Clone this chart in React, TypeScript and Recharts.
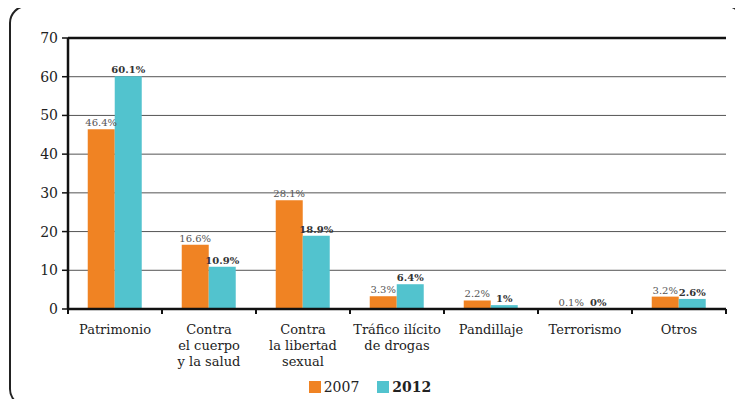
import React from "react";
import {
  Bar,
  BarChart,
  CartesianGrid,
  LabelList,
  Legend,
  ReferenceLine,
  XAxis,
  YAxis,
} from "recharts";

const categories = [
  "Patrimonio",
  "Contra\nel cuerpo\ny la salud",
  "Contra\nla libertad\nsexual",
  "Tráfico ilícito\nde drogas",
  "Pandillaje",
  "Terrorismo",
  "Otros",
];
const values2007 = [46.4, 16.6, 28.1, 3.3, 2.2, 0.1, 3.2];
const values2012 = [60.1, 10.9, 18.9, 6.4, 1, 0, 2.6];
const yTicks = [0, 10, 20, 30, 40, 50, 60, 70];
const seriesNames = ["2007", "2012"];

const ORANGE = "#F08323";
const TEAL = "#52C3CE";
const FONT = "'DejaVu Serif', serif";

const data = categories.map((name, i) => ({
  name,
  y2007: values2007[i],
  y2012: values2012[i],
}));

function CategoryTick(props: any) {
  const { x, y, payload, index } = props;
  const lines = String(payload.value).split("\n");
  const half = payload.offset ?? 47;
  return (
    <g>
      <line x1={x - half} x2={x - half} y1={y - 8} y2={y - 3} stroke="#111" strokeWidth={2} />
      {index === categories.length - 1 && (
        <line x1={x + half} x2={x + half} y1={y - 8} y2={y - 3} stroke="#111" strokeWidth={2} />
      )}
      <text x={x} y={y + 17} textAnchor="middle" fontFamily={FONT} fontSize={13} fill="#222">
        {lines.map((l, i) => (
          <tspan key={i} x={x} dy={i === 0 ? 0 : 16}>
            {l}
          </tspan>
        ))}
      </text>
    </g>
  );
}

// label above a bar, also drawn when the bar has no height
function makeLabel(color: string, weight: number) {
  return (props: any) => {
    const { x, y, width, value } = props;
    if (value == null) return null;
    return (
      <text
        x={x + width / 2}
        y={y - 3}
        textAnchor="middle"
        fontFamily={FONT}
        fontSize={10}
        fontWeight={weight}
        fill={color}
      >
        {`${value}%`}
      </text>
    );
  };
}

function LegendContent() {
  const colors = [ORANGE, TEAL];
  return (
    <div style={{ display: "flex", justifyContent: "center", gap: 18, fontFamily: FONT, fontSize: 14, color: "#222", marginLeft: -14 }}>
      {seriesNames.map((s, i) => (
        <div key={s} style={{ display: "flex", alignItems: "center", gap: 3, fontWeight: i === 1 ? 700 : 400 }}>
          <span style={{ display: "inline-block", width: 12, height: 12, background: colors[i] }} />
          {s}
        </div>
      ))}
    </div>
  );
}

export default function App() {
  return (
    <div style={{ position: "relative", width: 743, height: 407, margin: -8, overflow: "hidden", background: "#fff" }}>
      <div
        style={{
          position: "absolute",
          left: 9,
          top: 5,
          width: 731,
          height: 398,
          border: "2px solid #222",
          borderRadius: 18,
        }}
      />
      <BarChart
        width={743}
        height={407}
        data={data}
        margin={{ top: 38, right: 17, left: 28, bottom: 12 }}
        barCategoryGap="21%"
        barGap={0}
        style={{ position: "absolute", left: 0, top: 0 }}
      >
        <CartesianGrid vertical={false} stroke="#555" strokeWidth={1} yAxisId="left" />
        <XAxis
          dataKey="name"
          interval={0}
          height={70}
          axisLine={{ stroke: "#111", strokeWidth: 2.5 }}
          tickLine={false}
          tick={<CategoryTick />}
        />
        <YAxis
          yAxisId="left"
          domain={[0, 70]}
          ticks={yTicks}
          width={40}
          tickSize={6}
          tickMargin={4}
          axisLine={{ stroke: "#111", strokeWidth: 2.5 }}
          tickLine={{ stroke: "#111", strokeWidth: 1.5 }}
          tick={{ fontFamily: FONT, fontSize: 14, fill: "#222" }}
        />
        <YAxis
          yAxisId="right"
          orientation="right"
          domain={[0, 70]}
          width={0}
          tick={false}
          tickLine={false}
          axisLine={{ stroke: "#111", strokeWidth: 2.5 }}
        />
        <ReferenceLine yAxisId="left" y={70} stroke="#111" strokeWidth={2.5} />
        <Legend verticalAlign="bottom" content={<LegendContent />} />
        <Bar
          yAxisId="left"
          dataKey="y2007"
          name={seriesNames[0]}
          fill={ORANGE}
          minPointSize={(v: number) => (v === 0 ? 0.01 : 0)}
          isAnimationActive={false}
        >
          <LabelList dataKey="y2007" content={makeLabel("#555", 400)} />
        </Bar>
        <Bar
          yAxisId="left"
          dataKey="y2012"
          name={seriesNames[1]}
          fill={TEAL}
          minPointSize={(v: number) => (v === 0 ? 0.01 : 0)}
          isAnimationActive={false}
        >
          <LabelList dataKey="y2012" content={makeLabel("#333", 700)} />
        </Bar>
      </BarChart>
    </div>
  );
}
